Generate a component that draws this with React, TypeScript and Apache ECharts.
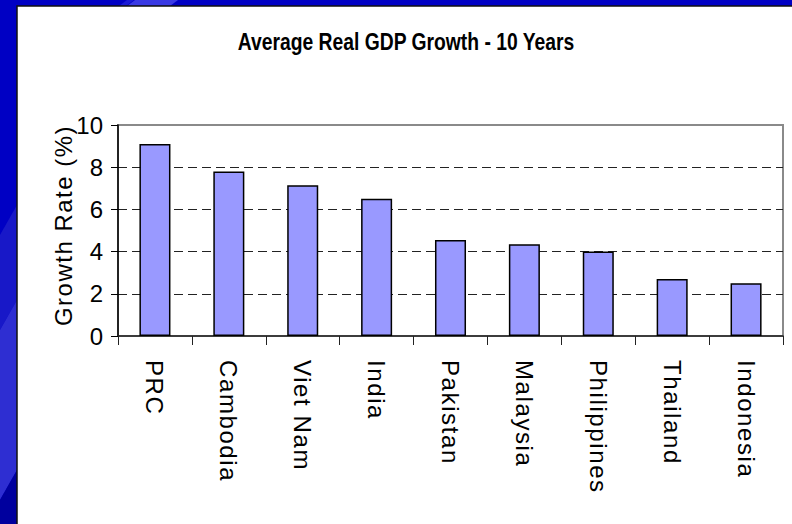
import React, { useEffect, useRef } from "react";
import * as echarts from "echarts";

const chartTitle = "Average Real GDP Growth - 10 Years";
const yAxisName = "Growth Rate (%)";
const categories = ["PRC", "Cambodia", "Viet Nam", "India", "Pakistan", "Malaysia", "Philippines", "Thailand", "Indonesia"];
const growthRates = [9.1, 7.8, 7.15, 6.5, 4.55, 4.35, 4.0, 2.7, 2.5];
const yTicks = { min: 0, max: 10, interval: 2 };

const SANS = '"Liberation Sans", Arial, sans-serif';

export default function App() {
  const ref = useRef<HTMLDivElement>(null);

  useEffect(() => {
    if (!ref.current) return;
    const chart = echarts.init(ref.current, null, { renderer: "svg" });

    const spacing = new Map<string, number>();
    categories.forEach((c) => spacing.set(c, 1.6));
    spacing.set(yAxisName, 1.5);
    const applySpacing = () => {
      if (!ref.current) return;
      ref.current.querySelectorAll("text").forEach((t) => {
        const ls = spacing.get((t.textContent || "").trim());
        if (ls != null) t.setAttribute("letter-spacing", String(ls));
      });
    };

    chart.setOption({
      animation: false,
      backgroundColor: "#0000C4",
      graphic: [
        {
          type: "polygon",
          z: -10,
          shape: { points: [[0, 235], [17, 205], [17, 300], [0, 330]] },
          style: { fill: "#1818C8" },
        },
        {
          type: "polygon",
          z: -10,
          shape: { points: [[0, 330], [17, 300], [17, 470], [0, 500]] },
          style: { fill: "#2E2ED2" },
        },
        {
          type: "polygon",
          z: -10,
          shape: { points: [[0, 500], [17, 470], [17, 524], [0, 524]] },
          style: { fill: "#00009E" },
        },
        {
          type: "polygon",
          z: -10,
          shape: { points: [[127, 0], [134, 0], [126, 6], [119, 6]] },
          style: { fill: "#1A1AD6" },
        },
        {
          type: "polygon",
          z: -10,
          shape: { points: [[135, 0], [178, 0], [170, 6], [127, 6]] },
          style: { fill: "#3A3AE4" },
        },
        {
          type: "rect",
          z: -9,
          shape: { x: 17, y: 6, width: 800, height: 540 },
          style: { fill: "#FFFFFF", stroke: "#111111", lineWidth: 1.5 },
        },
        {
          type: "text",
          z: 10,
          x: 406,
          y: 30,
          scaleX: 0.84,
          style: {
            text: chartTitle,
            fontFamily: SANS,
            fontSize: 23,
            fontWeight: "bold",
            fill: "#000",
            textAlign: "center",
            textVerticalAlign: "top",
          },
        },
      ],
      grid: {
        left: 118,
        right: 9,
        top: 125,
        bottom: 188,
        show: true,
        backgroundColor: "rgba(0,0,0,0)",
        borderColor: "#8A8A8A",
        borderWidth: 2,
      },
      xAxis: {
        type: "category",
        data: categories,
        axisLine: { show: true, lineStyle: { color: "#222", width: 1.5 } },
        axisTick: { show: true, alignWithLabel: false, length: 9, lineStyle: { color: "#222", width: 1 } },
        axisLabel: {
          interval: 0,
          rotate: -90,
          margin: 24,
          fontSize: 24,
          fontFamily: SANS,
          color: "#000",
        },
        splitLine: { show: false },
      },
      yAxis: {
        type: "value",
        min: yTicks.min,
        max: yTicks.max,
        interval: yTicks.interval,
        name: yAxisName,
        nameLocation: "middle",
        nameRotate: 90,
        nameGap: 43,
        nameMoveOverlap: false,
        nameTextStyle: { fontSize: 24, fontFamily: SANS, color: "#000", padding: [0, 0, 0, 10] },
        axisLine: { show: true, lineStyle: { color: "#000", width: 1.5 } },
        axisTick: { show: true, length: 7, lineStyle: { color: "#000", width: 1 } },
        axisLabel: { fontSize: 24, fontFamily: SANS, color: "#000", margin: 15 },
        splitLine: {
          show: true,
          showMinLine: false,
          showMaxLine: false,
          lineStyle: { type: [9, 5], color: "#222", width: 1.2 },
        },
      },
      series: [
        {
          type: "bar",
          data: growthRates,
          barWidth: "42%",
          itemStyle: { color: "#9999FF", borderColor: "#000", borderWidth: 1.5 },
        },
      ],
    });

    applySpacing();
    chart.on("finished", applySpacing);

    return () => {
      chart.dispose();
    };
  }, []);

  return (
    <div
      ref={ref}
      style={{ position: "fixed", left: 0, top: 0, width: 792, height: 524 }}
    />
  );
}
